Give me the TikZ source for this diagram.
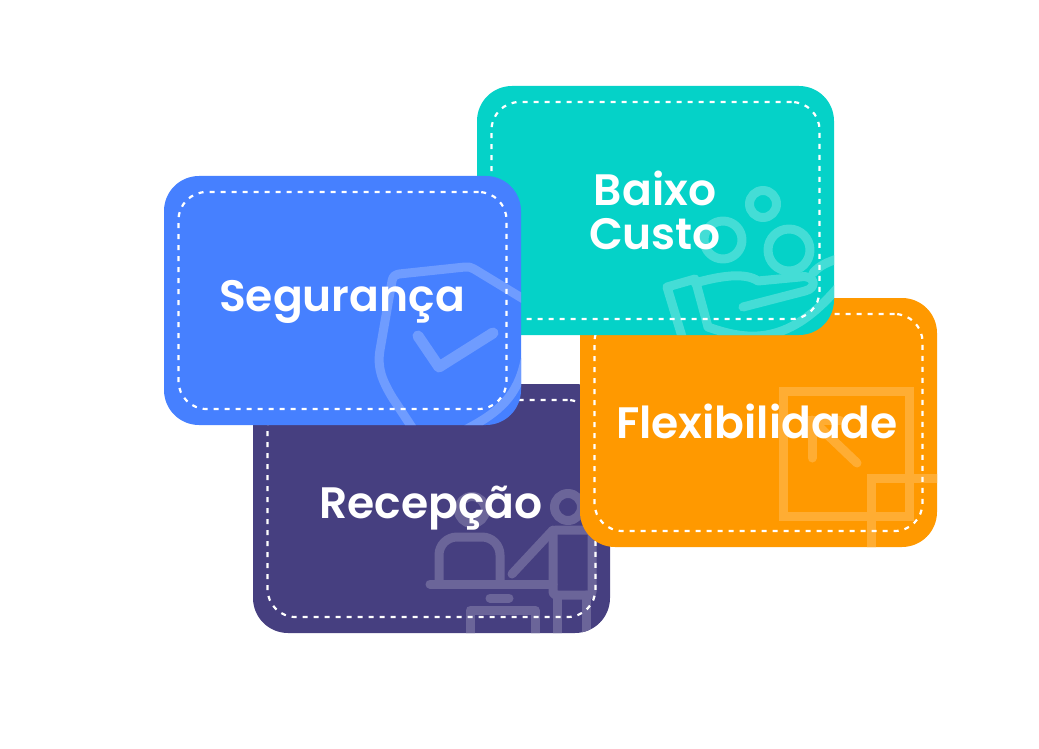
\documentclass[tikz,border=0pt]{standalone}
\usepackage{fontspec}
\setmainfont{Poppins}[BoldFont={Poppins SemiBold}]
\definecolor{cardblue}{HTML}{4680FF}
\definecolor{cardteal}{HTML}{05D2C8}
\definecolor{cardpurple}{HTML}{463F80}
\definecolor{cardorange}{HTML}{FF9900}
\begin{document}
\begin{tikzpicture}[
		x = 1pt, y = -1pt,
		line cap = round,
		line join = round,
		card/.style = {minimum width=357pt, minimum height=249pt, rounded corners=35pt, inner sep=0pt, outer sep=0pt},
		cardline/.style = {draw=white, line width=2.2pt, dash pattern=on 5pt off 6pt, line cap=butt, minimum width=328pt, minimum height=217pt, rounded corners=28pt, inner sep=0pt, outer sep=0pt},
		cardlabel/.style = {text=white, font=\fontsize{44}{43}\selectfont\bfseries, align=center, inner sep=0pt, anchor=base},
		icon/.style = {line width=9pt}
		]
		\useasboundingbox (0,0) rectangle (1039,749);
		
		% purple card
		\node[card,fill=cardpurple] (recepcao) at (431.5,508.5) {};
		\begin{scope}
			\clip[rounded corners=35pt] (recepcao.south west) rectangle (recepcao.north east);
			\begin{scope}[icon,draw=white!20!cardpurple]
				\draw (568,507) circle (13.5);
				\draw (472,510) circle (13.5);
				\draw[rounded corners=3pt] (553,530) rectangle (592,595);
				\draw (512,574) -- (553,530);
				\draw (430,584) -- (553,584);
				\draw[rounded corners=18pt] (439,584) -- (439,537) -- (500,537) -- (500,584);
				\draw (490,598) -- (509,598);
				\draw (470,640) -- (470,610) -- (535,610) -- (535,640);
				\draw (557,595) -- (557,640);
				\draw (586,595) -- (586,640);
			\end{scope}
		\end{scope}
		\node[cardline] (recepcaoline) at (recepcao) {};
		\node[cardlabel] (recepcaotext) at (431,518) {Recepção};
		
		% orange card
		\node[card,fill=cardorange] (flex) at (758.5,422.5) {};
		\begin{scope}
			\clip[rounded corners=35pt] (flex.south west) rectangle (flex.north east);
			\begin{scope}[icon,line cap=butt,line join=miter,draw=white!20!cardorange]
				\draw (783,391) rectangle (909,516);
				\draw (945,478) -- (871,478) -- (871,555);
				\draw[line cap=round] (812,458) -- (812,420) -- (840,420);
				\draw[line cap=round] (812,420) -- (857,463);
			\end{scope}
		\end{scope}
		\node[cardline] (flexline) at (flex) {};
		\node[cardlabel] (flextext) at (757,438) {Flexibilidade};
		
		% teal card
		\node[card,fill=cardteal] (custo) at (655.5,210.5) {};
		\begin{scope}
			\clip[rounded corners=35pt] (custo.south west) rectangle (custo.north east);
			\begin{scope}[icon,draw=white!25!cardteal]
				\draw (763,204) circle (13.5);
				\draw (723,240) circle (19);
				\draw (789,250) circle (21);
				\draw (683,340) -- (667,287) -- (695,279) -- (708,327);
				\draw (695,283) .. controls (720,276) and (745,272) .. (758,281) -- (800,277)
					.. controls (815,274) and (818,288) .. (805,291) -- (743,307);
				\draw (708,327) .. controls (750,342) and (790,345) .. (840,285);
				\draw (813,273) .. controls (820,265) and (828,262) .. (840,258);
			\end{scope}
		\end{scope}
		\node[cardline] (custoline) at (custo) {};
		\node[cardlabel] (baixotext) at (655,205) {Baixo};
		\node[cardlabel] (custotext) at (655,249) {Custo};
		
		% blue card
		\node[card,fill=cardblue] (seguranca) at (342.5,300.5) {};
		\begin{scope}
			\clip[rounded corners=35pt] (seguranca.south west) rectangle (seguranca.north east);
			\begin{scope}[icon,draw=white!22!cardblue]
				\draw (415,432) -- (392,397) .. controls (382,380) and (377,368) .. (380,350)
					-- (392,281) .. controls (393,276) and (395,275) .. (399,274)
					-- (465,267) .. controls (469,267) and (471,267) .. (474,269) -- (530,303);
				\draw (465,430) .. controls (500,412) and (518,395) .. (525,360);
				\draw[line width=11pt] (418,336) -- (439,367) -- (493,333);
			\end{scope}
		\end{scope}
		\node[cardline] (segurancaline) at (seguranca) {};
		\node[cardlabel] (segurancatext) at (342,311) {Segurança};
		
	\end{tikzpicture}
\end{document}
